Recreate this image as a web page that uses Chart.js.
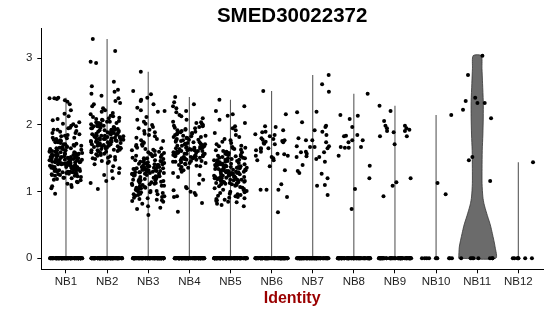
<!DOCTYPE html>
<html><head><meta charset="utf-8">
<script src="https://cdn.jsdelivr.net/npm/chart.js@4.4.1/dist/chart.umd.min.js"></script>
<style>html,body{margin:0;padding:0;background:#fff;}#c{display:block;}</style>
</head><body>
<canvas id="c" width="550" height="316"></canvas>
<script>
const chartTitle = 'SMED30022372';
const axisTitle = 'Identity';
const categories = ['NB1','NB2','NB3','NB4','NB5','NB6','NB7','NB8','NB9','NB10','NB11','NB12'];
const yTicks = [0, 1, 2, 3];
// number of cells with expression exactly 0 in each cluster
const zeroCounts = [90, 90, 90, 90, 90, 80, 80, 70, 60, 10, 8, 7];

const nb1 = [
2.41,2.40,2.39,2.40,2.37,2.35,2.31,2.22,2.17,2.13,2.09,2.07,2.04,2.02,2.01,1.99,
1.98,1.96,1.95,1.93,1.93,1.91,1.90,1.88,1.88,1.86,1.85,1.84,1.83,1.81,1.81,1.80,1.79,1.78,
1.77,1.76,1.76,1.74,1.74,1.73,1.72,1.71,1.71,1.70,1.69,1.69,1.68,1.67,1.67,1.66,1.65,1.65,
1.64,1.64,1.63,1.62,1.62,1.61,1.61,1.60,1.60,1.59,1.59,1.58,1.58,1.57,1.57,1.56,1.56,1.55,
1.55,1.55,1.54,1.54,1.53,1.53,1.52,1.52,1.52,1.51,1.51,1.50,1.50,1.50,1.49,1.49,1.48,1.48,
1.48,1.47,1.47,1.46,1.46,1.46,1.45,1.45,1.45,1.44,1.44,1.43,1.43,1.43,1.42,1.42,1.41,1.41,
1.41,1.40,1.40,1.39,1.39,1.39,1.38,1.38,1.37,1.37,1.36,1.36,1.35,1.35,1.34,1.34,1.33,1.33,
1.32,1.31,1.31,1.30,1.30,1.29,1.28,1.28,1.27,1.26,1.25,1.25,1.24,1.23,1.22,1.21,1.20,1.19,
1.18,1.17,1.15,1.14,1.12,1.10,1.08,1.07,1.05,0.97,
1.62,1.58,1.55,1.53,1.51,1.49,1.47,1.44,1.42,1.40,1.38,1.36,1.34,1.32,1.30,1.27,1.24,1.21,
1.66,1.57,1.52,1.48,1.45,1.41,1.37,1.33,1.29,1.26];
const nb2 = [
3.29,3.11,2.95,2.93,2.65,2.58,2.53,2.50,2.47,2.44,2.40,2.36,2.33,2.31,2.28,2.25,2.22,2.20,
2.18,2.16,2.14,2.13,2.12,2.11,2.10,2.09,2.08,2.07,2.06,2.05,2.05,2.04,2.03,2.02,2.01,2.00,
2.00,1.99,1.98,1.98,1.97,1.96,1.96,1.95,1.94,1.94,1.93,1.92,1.92,1.91,1.90,1.90,1.89,1.89,
1.88,1.87,1.87,1.86,1.86,1.85,1.85,1.84,1.84,1.83,1.83,1.82,1.82,1.81,1.81,1.80,1.80,1.79,
1.79,1.78,1.78,1.77,1.77,1.76,1.76,1.75,1.75,1.74,1.74,1.73,1.72,1.72,1.71,1.71,1.70,1.70,
1.69,1.68,1.68,1.67,1.67,1.66,1.65,1.65,1.64,1.63,1.63,1.62,1.61,1.60,1.60,1.59,1.58,1.57,
1.56,1.55,1.54,1.53,1.52,1.51,1.50,1.49,1.48,1.46,1.45,1.43,1.41,1.38,1.35,1.31,1.28,1.25,
1.20,1.16,1.13,1.04,
1.98,1.93,1.88,1.84,1.79,1.75,1.71,1.66,1.62,2.03,1.95,1.86,1.78,1.69,1.91,1.82,1.73,1.64];
const nb3 = [
2.80,2.51,2.46,2.41,2.38,2.36,2.31,2.26,2.22,2.21,2.20,2.12,2.08,2.05,2.02,2.00,1.97,1.95,
1.93,1.91,1.89,1.87,1.85,1.83,1.81,1.79,1.77,1.76,1.74,1.73,1.71,1.70,1.69,1.68,1.66,1.65,
1.64,1.63,1.62,1.61,1.60,1.59,1.58,1.57,1.56,1.55,1.55,1.54,1.53,1.52,1.51,1.50,1.50,1.49,
1.48,1.47,1.47,1.46,1.45,1.45,1.44,1.43,1.43,1.42,1.41,1.41,1.40,1.40,1.39,1.38,1.38,1.37,
1.37,1.36,1.36,1.35,1.35,1.34,1.34,1.33,1.33,1.32,1.32,1.31,1.31,1.30,1.30,1.29,1.29,1.28,
1.28,1.27,1.27,1.26,1.26,1.25,1.24,1.24,1.23,1.23,1.22,1.21,1.21,1.20,1.20,1.19,1.18,1.18,
1.17,1.16,1.16,1.15,1.14,1.13,1.13,1.12,1.11,1.10,1.10,1.09,1.08,1.07,1.06,1.05,1.04,1.03,
1.02,1.01,1.00,0.99,0.98,0.97,0.96,0.95,0.94,0.93,0.92,0.91,0.90,0.89,0.88,0.87,0.86,0.85,
0.82,0.78,0.76,0.74,0.65,
1.45,1.39,1.33,1.27,1.22,1.17,1.12,1.06,1.01,0.96,1.36,1.29,1.19,1.09,0.99,1.42,1.25,1.15];
const nb4 = [
2.42,2.34,2.31,2.28,2.25,2.21,2.19,2.15,2.13,2.10,2.08,2.05,2.04,2.03,2.01,2.00,1.99,1.98,
1.97,1.96,1.95,1.94,1.93,1.92,1.91,1.90,1.89,1.88,1.88,1.87,1.86,1.85,1.84,1.84,1.83,1.82,
1.81,1.80,1.80,1.79,1.78,1.77,1.77,1.76,1.75,1.74,1.74,1.73,1.72,1.71,1.71,1.70,1.69,1.69,
1.68,1.67,1.67,1.66,1.66,1.65,1.65,1.64,1.64,1.63,1.63,1.62,1.62,1.61,1.61,1.60,1.60,1.59,
1.59,1.58,1.58,1.57,1.57,1.56,1.56,1.55,1.55,1.54,1.54,1.53,1.53,1.52,1.52,1.51,1.51,1.50,
1.50,1.49,1.48,1.48,1.47,1.46,1.46,1.45,1.44,1.43,1.43,1.42,1.41,1.40,1.39,1.38,1.37,1.36,
1.34,1.32,1.30,1.28,1.25,1.22,1.18,1.12,1.07,1.05,1.02,1.00,0.98,0.95,0.93,0.92,0.83,0.70,
1.78,1.72,1.66,1.61,1.57,1.53,1.49,1.45,1.82,1.68,1.59,1.51];
const nb5 = [
2.38,2.28,2.21,2.16,2.14,2.08,2.03,1.98,1.95,1.92,1.88,1.85,1.82,1.79,1.77,1.75,1.73,1.71,
1.69,1.68,1.67,1.66,1.65,1.64,1.63,1.62,1.61,1.60,1.59,1.58,1.57,1.57,1.56,1.55,1.55,1.54,
1.53,1.53,1.52,1.51,1.51,1.50,1.50,1.49,1.48,1.48,1.47,1.47,1.46,1.46,1.45,1.45,1.44,1.44,
1.43,1.43,1.42,1.42,1.41,1.41,1.40,1.40,1.39,1.39,1.38,1.38,1.37,1.37,1.36,1.36,1.35,1.35,
1.34,1.34,1.33,1.33,1.32,1.32,1.31,1.31,1.30,1.30,1.29,1.29,1.28,1.28,1.27,1.27,1.26,1.26,
1.25,1.25,1.24,1.24,1.23,1.23,1.22,1.22,1.21,1.21,1.20,1.20,1.19,1.19,1.18,1.18,1.17,1.17,
1.16,1.15,1.15,1.14,1.13,1.13,1.12,1.11,1.11,1.10,1.09,1.08,1.07,1.06,1.05,1.04,1.03,1.02,
1.01,1.00,0.99,0.98,0.97,0.96,0.95,0.94,0.93,0.92,0.91,0.90,0.89,0.88,0.87,0.86,0.85,0.84,
0.82,0.80,0.78,
1.41,1.36,1.32,1.28,1.24,1.20,1.16,1.12,1.38,1.30,1.22,1.14,1.34,1.26,1.18];
const nb6 = [2.51,2.16,1.98,1.97,1.90,1.89,1.86,1.85,1.83,1.92,1.80,1.78,1.77,1.79,1.75,1.76,1.74,1.73,1.72,1.71,
1.65,1.65,1.64,1.62,1.57,1.54,1.56,1.60,1.54,1.52,1.47,1.50,1.47,1.38,1.32,1.11,1.03,1.03,1.03,0.92,0.69];
const nb7 = [2.75,2.61,2.50,2.20,2.19,2.04,1.97,1.99,1.92,1.90,1.85,1.77,1.80,1.77,1.74,1.68,1.67,1.68,1.65,1.67,
1.59,1.49,1.57,1.53,1.52,1.60,1.52,1.59,1.45,1.40,1.31,1.27,1.28,1.20,1.09,1.10,0.95];
const nb8 = [2.47,2.14,1.97,2.09,2.15,1.85,1.77,1.74,1.67,1.67,1.66,1.83,1.77,1.84,1.66,1.54,1.39,1.20,1.04,0.74];
const nb9 = [2.29,2.21,2.06,1.99,1.99,1.95,1.93,1.89,1.95,1.91,1.91,1.83,1.83,1.71,1.20,1.14,1.09,0.93];
const nb10 = [2.15,1.13,0.96];
const nb11 = [3.04,2.75,2.41,2.36,2.33,2.33,2.23,2.10,1.52,1.47,1.16];
const nb12 = [1.44];
const nonZero = [nb1,nb2,nb3,nb4,nb5,nb6,nb7,nb8,nb9,nb10,nb11,nb12];

// NB11 violin: estimated relative density at expression levels
const nb11Levels  = [0,0.17,0.37,0.5,0.62,0.72,0.82,0.92,1.12,1.35,1.62,1.85,2.12,2.35,2.62,2.85,3.04];
const nb11Density = [1,0.967,0.82,0.71,0.574,0.464,0.366,0.306,0.262,0.262,0.273,0.306,0.328,0.328,0.29,0.257,0.219];
const violinIndex = 10;

// ---- build datasets ----
const JW = 0.4;         // jitter half-width
const VW = 0.45;        // violin half-width
function jit(g, k) {    // deterministic horizontal jitter (mulberry32 step)
  let t = Math.imul(g * 4099 + k + 1, 0x6D2B79F5);
  t = Math.imul(t ^ (t >>> 15), t | 1);
  t ^= t + Math.imul(t ^ (t >>> 7), t | 61);
  return (((t ^ (t >>> 14)) >>> 0) / 4294967296) * 2 - 1;
}
const pts = [];
nonZero.forEach((arr, g) => {
  arr.forEach((v, k) => pts.push({x: g + jit(g, k) * JW, y: v}));
  for (let k = 0; k < zeroCounts[g]; k++) pts.push({x: g + jit(g, k + 1500) * JW, y: 0});
});

const datasets = [{
  type: 'scatter', data: pts, backgroundColor: '#000', borderWidth: 0,
  pointRadius: 2, pointHoverRadius: 2, order: 0
}];
nonZero.forEach((arr, g) => {
  if (g === violinIndex) return;
  datasets.push({
    type: 'line', data: [{x: g, y: 0}, {x: g, y: Math.max(...arr)}],
    borderColor: '#5a5a5a', borderWidth: 1.1, pointRadius: 0, fill: false, order: 1
  });
});
const left = nb11Levels.map((l, i) => ({x: violinIndex - nb11Density[i] * VW, y: l}));
const right = nb11Levels.map((l, i) => ({x: violinIndex + nb11Density[i] * VW, y: l})).reverse();
datasets.push({
  type: 'line', data: left.concat(right, [left[0]]),
  borderColor: '#333', borderWidth: 0.8, backgroundColor: '#6b6b6b',
  fill: 'shape', pointRadius: 0, tension: 0.25, order: 1
});

const FONT = '"Liberation Sans", Arial, Helvetica, sans-serif';
const titlePlugin = {
  id: 'plotTitle',
  afterDraw(chart) {
    const {ctx, chartArea} = chart;
    ctx.save();
    ctx.font = 'bold 20.5px ' + FONT;
    ctx.fillStyle = '#000';
    ctx.textAlign = 'center';
    ctx.textBaseline = 'alphabetic';
    ctx.fillText(chartTitle, (chartArea.left + chartArea.right) / 2, 22.3);
    ctx.restore();
  }
};

Chart.defaults.font.family = FONT;
new Chart(document.getElementById('c'), {
  type: 'scatter',
  data: {datasets},
  options: {
    responsive: false, animation: false, devicePixelRatio: 1,
    layout: {padding: {top: 28.3, right: 7, bottom: 0, left: 0}},
    plugins: {legend: {display: false}, tooltip: {enabled: false}, title: {display: false}},
    scales: {
      x: {
        type: 'linear', min: -0.6, max: categories.length - 0.4,
        afterBuildTicks: s => { s.ticks = categories.map((c, i) => ({value: i})); },
        ticks: {callback: v => categories[v] ?? '', color: '#222', font: {size: 11.5},
                padding: 2, maxRotation: 0, autoSkip: false},
        grid: {drawOnChartArea: false, drawTicks: true, tickLength: 4, tickColor: '#000', color: '#000'},
        border: {display: true, color: '#000', width: 1},
        title: {display: true, text: axisTitle, color: '#9a0000', font: {size: 16, weight: 'bold'},
                padding: {top: 0, bottom: 8}},
        afterFit: s => { s.height = 46.7; }
      },
      y: {
        type: 'linear', min: -0.165, max: 3.45,
        afterBuildTicks: s => { s.ticks = yTicks.map(v => ({value: v})); },
        ticks: {color: '#222', font: {size: 11.5}, padding: 5},
        grid: {drawOnChartArea: false, drawTicks: true, tickLength: 4, tickColor: '#000', color: '#000'},
        border: {display: true, color: '#000', width: 1},
        afterFit: s => { s.width = 41.3; }
      }
    }
  },
  plugins: [titlePlugin]
});
</script>
</body></html>
